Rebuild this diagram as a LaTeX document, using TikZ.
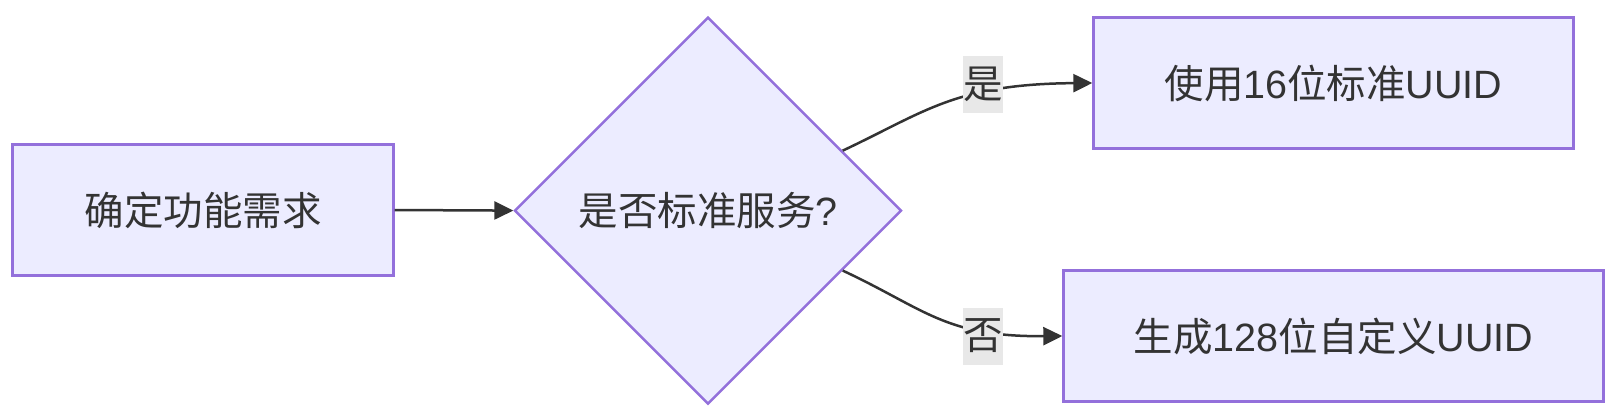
\documentclass[tikz,border=0pt]{standalone}
\usepackage{fontspec}
\setmainfont{Liberation Sans}
\newfontfamily\cjk{Noto Sans CJK SC}
\usepackage{tikz}
\usepackage{xcolor}
\usetikzlibrary{shapes.geometric, arrows.meta, positioning}
\definecolor{cFill}{RGB}{236,236,255}
\definecolor{cBorder}{RGB}{147,112,219}
\definecolor{cLine}{RGB}{51,51,51}
\definecolor{cLabel}{RGB}{232,232,232}
\tikzset{
	process/.style  ={rectangle, draw=cBorder, fill=cFill, line width=2.4pt, text=cLine, inner sep=0pt, align=center, minimum height=131pt},
	decision/.style ={diamond, aspect=1, draw=cBorder, fill=cFill, line width=2.4pt, text=cLine, inner sep=0pt, minimum width=387pt, minimum height=387pt},
	edgelbl/.style  ={rectangle, fill=cLabel, text=cLine, inner sep=0pt, minimum width=39pt, minimum height=57pt},
	flowarrow/.style={-{Triangle[length=19pt, width=18pt]}, line width=2.5pt, draw=cLine},
}

\begin{document}
\begin{tikzpicture}[x=1pt, y=-1pt, font=\fontsize{39.5pt}{47pt}\selectfont]
	\useasboundingbox (0,0) rectangle (1619,410);
	% nodes
	\node[process, minimum width=381pt] (req) at (203,210) {{\cjk 确定功能需求}};
	\node[decision] (dec) at (708,210.6) {{\cjk 是否标准服务}?};
	\node[process, minimum width=480pt] (use) at (1333.5,83) {{\cjk 使用}16{\cjk 位标准}UUID};
	\node[process, minimum width=540pt] (gen) at (1333.5,336) {{\cjk 生成}128{\cjk 位自定义}UUID};
	% connectors
	\draw[flowarrow] (req.east) -- (dec.west);
	\draw[flowarrow] (dec.24) .. controls (925,112) and (955,84) .. (use.west);
	\draw[flowarrow] (dec.-24) .. controls (925,309) and (945,337) .. (gen.west);
	% edge labels
	\node[edgelbl] (yes) at (983,84) {{\cjk 是}};
	\node[edgelbl] (no) at (983,336) {{\cjk 否}};
\end{tikzpicture}
\end{document}
